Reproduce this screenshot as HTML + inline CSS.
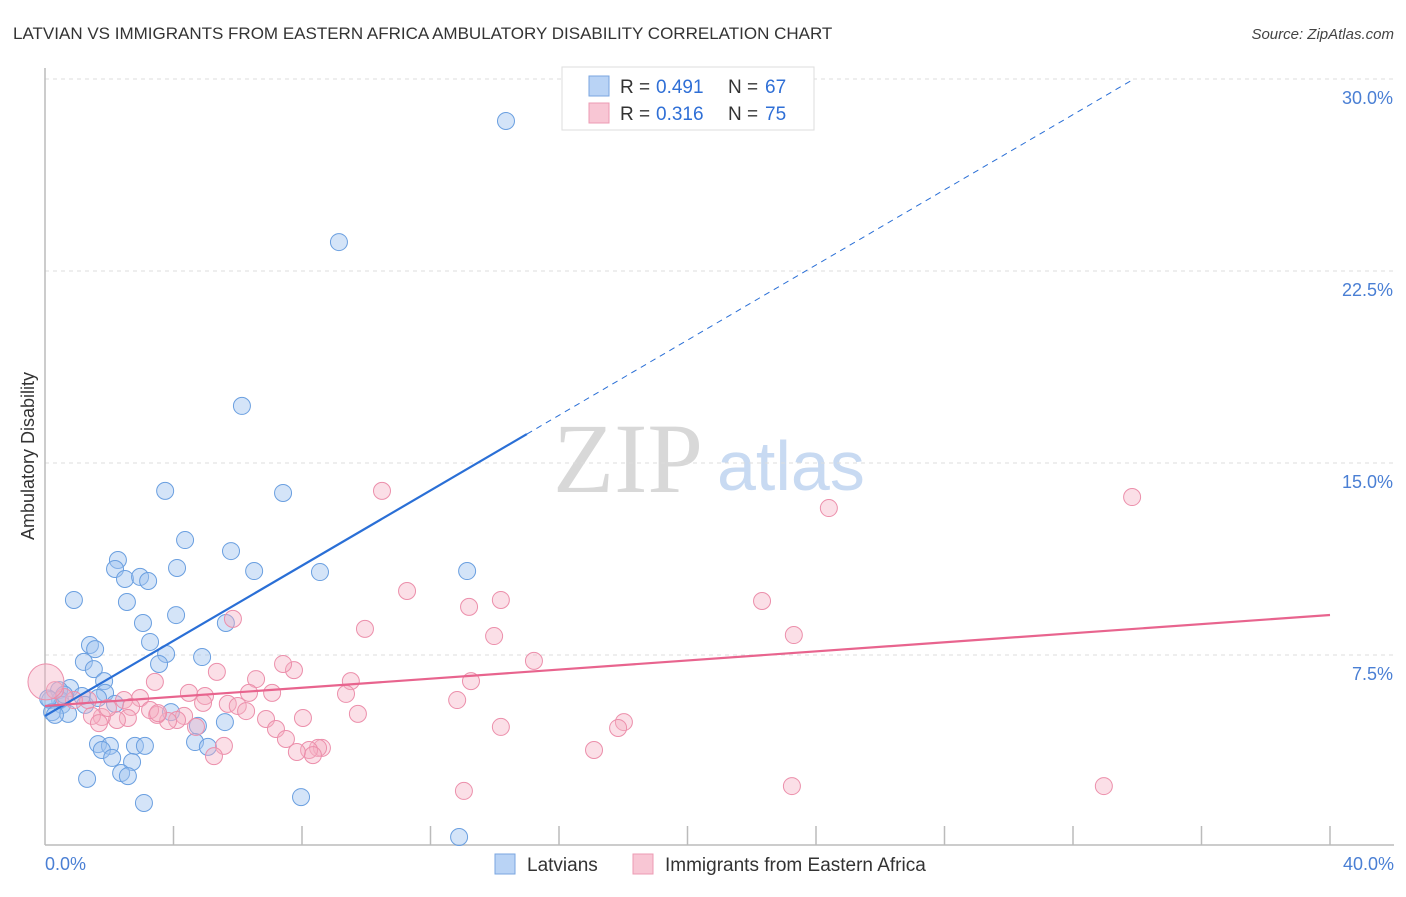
<!DOCTYPE html>
<html><head><meta charset="utf-8"><style>
body{margin:0;background:#fff;font-family:"Liberation Sans",sans-serif;}
svg text{font-family:"Liberation Sans",sans-serif;}
</style></head><body>
<svg id="chart" width="1406" height="892" viewBox="0 0 1406 892" xmlns="http://www.w3.org/2000/svg">
<text x="13" y="39" font-size="17" fill="#333">LATVIAN VS IMMIGRANTS FROM EASTERN AFRICA AMBULATORY DISABILITY CORRELATION CHART</text>
<text x="1394" y="39" font-size="15" fill="#444" text-anchor="end" font-style="italic">Source: ZipAtlas.com</text>
<text x="553" y="492" font-size="100" fill="#d8d8d8" style="font-family:'Liberation Serif',serif">ZIP</text>
<text x="717" y="490" font-size="70" fill="#c8daf2">atlas</text>
<g id="grid"></g>
<g id="axes"></g>
<g id="blue-pts"></g>
<g id="pink-pts"></g>
<g id="lines"></g>
<text transform="translate(34,456) rotate(-90)" font-size="18" fill="#333" text-anchor="middle">Ambulatory Disability</text>
<text x="45" y="870" font-size="18" fill="#4a7fd4">0.0%</text>
<text x="1394" y="870" font-size="18" fill="#4a7fd4" text-anchor="end">40.0%</text>
<g>
<rect x="495" y="854" width="20" height="20" fill="#b9d3f5" stroke="#7aa6e0"/>
<text x="527" y="871" font-size="19" fill="#333">Latvians</text>
<rect x="633" y="854" width="20" height="20" fill="#f8c6d4" stroke="#ec9bb3"/>
<text x="665" y="871" font-size="19" fill="#333">Immigrants from Eastern Africa</text>
</g>
<g>
<rect x="562" y="67" width="252" height="63" fill="#fff" stroke="#ddd"/>
<rect x="589" y="76" width="20" height="20" fill="#b9d3f5" stroke="#7aa6e0"/>
<rect x="589" y="103" width="20" height="20" fill="#f8c6d4" stroke="#ec9bb3"/>
<text x="620" y="93" font-size="19" fill="#333">R =</text><text x="656" y="93" font-size="19" fill="#2f6fd6">0.491</text>
<text x="728" y="93" font-size="19" fill="#333">N =</text><text x="765" y="93" font-size="19" fill="#2f6fd6">67</text>
<text x="620" y="120" font-size="19" fill="#333">R =</text><text x="656" y="120" font-size="19" fill="#2f6fd6">0.316</text>
<text x="728" y="120" font-size="19" fill="#333">N =</text><text x="765" y="120" font-size="19" fill="#2f6fd6">75</text>
</g>
</svg>
<script>
const yTicks=[7.5,15,22.5,30];
const yTickLabels=["7.5%","15.0%","22.5%","30.0%"];
const blueX=[14.35,9.15,6.13,3.74,7.41,4.36,2.27,5.79,2.18,4.11,6.51,8.56,13.14,2.49,2.96,3.21,0.90,2.55,4.08,3.05,5.63,1.40,3.27,1.56,3.77,4.89,3.55,1.21,1.52,1.84,0.78,0.44,1.87,1.15,0.47,0.16,0.53,1.25,2.18,1.65,0.22,0.72,0.31,3.92,4.76,5.60,4.67,5.07,1.65,2.02,1.77,2.80,3.11,2.09,2.71,2.37,2.58,1.31,3.08,7.97,12.89,0.10,0.60];
const blueY=[28.36,23.63,17.23,13.91,13.83,11.99,11.21,11.56,10.86,10.90,10.78,10.74,10.78,10.47,10.55,10.39,9.65,9.57,9.06,8.75,8.75,7.89,8.01,7.73,7.54,7.42,7.15,7.23,6.95,6.48,6.21,6.13,6.02,5.90,5.74,5.74,5.55,5.55,5.59,5.82,5.27,5.20,5.16,5.27,4.73,4.88,4.10,3.91,4.02,3.95,3.79,3.95,3.95,3.48,3.32,2.89,2.77,2.66,1.72,1.95,0.39,5.80,5.95];
const pinkX=[33.84,32.96,24.40,22.32,23.31,23.25,18.02,17.09,17.84,15.22,14.19,13.20,13.98,13.26,12.83,14.19,13.04,10.49,11.27,9.96,9.52,9.37,9.74,8.62,8.50,8.22,8.34,7.84,8.03,7.75,7.41,6.57,5.85,5.35,7.07,6.35,5.69,6.00,6.26,6.88,7.19,7.50,5.57,5.26,4.98,4.48,4.92,4.33,4.11,4.70,3.83,3.49,3.42,2.96,2.46,2.68,3.27,3.52,2.58,2.24,1.77,1.46,1.68,1.34,0.90,0.59,0.31,1.96,0.03];
const pinkY=[13.67,2.38,13.24,9.61,8.28,2.38,4.88,3.79,4.65,7.27,9.65,9.38,8.24,6.48,5.74,4.69,2.19,13.91,10.0,8.52,6.48,5.98,5.20,3.87,3.87,3.79,3.59,3.71,5.04,6.91,7.15,6.56,8.91,6.84,6.02,6.02,5.59,5.51,5.31,5.00,4.61,4.22,3.95,3.55,5.90,6.02,5.63,5.12,4.96,4.69,4.92,5.16,6.45,5.82,5.74,5.47,5.35,5.23,5.04,4.96,5.08,5.12,4.84,5.74,5.74,5.86,6.13,5.43,6.45];
const blueLine=[5.12,0.734];
const pinkLine=[5.51,0.0888];
const NS="http://www.w3.org/2000/svg";
const X0=45,X1=1330,Y0=847;
function sx(v){return X0+(X1-X0)*v/40;}
function sy(v){return Y0-v*25.6;}
function mk(tag,parent,attrs){const e=document.createElementNS(NS,tag);for(const k in attrs)e.setAttribute(k,attrs[k]);document.getElementById(parent).appendChild(e);return e;}
yTicks.forEach((t,i)=>{
 const l=mk('line','grid',{x1:45,x2:1394,y1:sy(t),y2:sy(t),stroke:'#ddd','stroke-dasharray':'4,4'});
 
 
 const tx=mk('text','grid',{x:1393,y:sy(t)+25,'font-size':18,fill:'#4a7fd4','text-anchor':'end'});
 tx.textContent=yTickLabels[i];
 
 
});
const ax=mk('line','axes',{x1:45,x2:1394,y1:845,y2:845,stroke:'#bbb','stroke-width':1.5});


const ay=mk('line','axes',{x1:45,x2:45,y1:68,y2:845,stroke:'#bbb','stroke-width':1.5});


for(let i=1;i<=10;i++){
 const t=mk('line','axes',{x1:sx(i*4),x2:sx(i*4),y1:826,y2:845,stroke:'#bbb','stroke-width':1.5});
 
 
}
blueX.forEach((x,i)=>{
 const c=mk('circle','blue-pts',{cx:sx(x),cy:sy(blueY[i]),r:8.5,fill:'rgba(160,196,240,0.45)',stroke:'#6a9fe0','stroke-width':1});
 
 
});
pinkX.forEach((x,i)=>{
 const c=mk('circle','pink-pts',{cx:sx(x),cy:sy(pinkY[i]),r:i===pinkX.length-1?18:8.5,fill:'rgba(246,176,196,0.4)',stroke:'#ec8fab','stroke-width':1});
 
 
});
const bs=mk('line','lines',{x1:sx(0),y1:sy(blueLine[0]),x2:sx(15),y2:sy(blueLine[0]+blueLine[1]*15),stroke:'#2a6fd6','stroke-width':2.2});


const bd=mk('line','lines',{x1:sx(15),y1:sy(blueLine[0]+blueLine[1]*15),x2:sx(33.8),y2:sy(blueLine[0]+blueLine[1]*33.8),stroke:'#2a6fd6','stroke-width':1,'stroke-dasharray':'6,5'});


const pl=mk('line','lines',{x1:sx(0),y1:sy(pinkLine[0]),x2:sx(40),y2:sy(pinkLine[0]+pinkLine[1]*40),stroke:'#e8648e','stroke-width':2.2});


</script>
</body></html>
